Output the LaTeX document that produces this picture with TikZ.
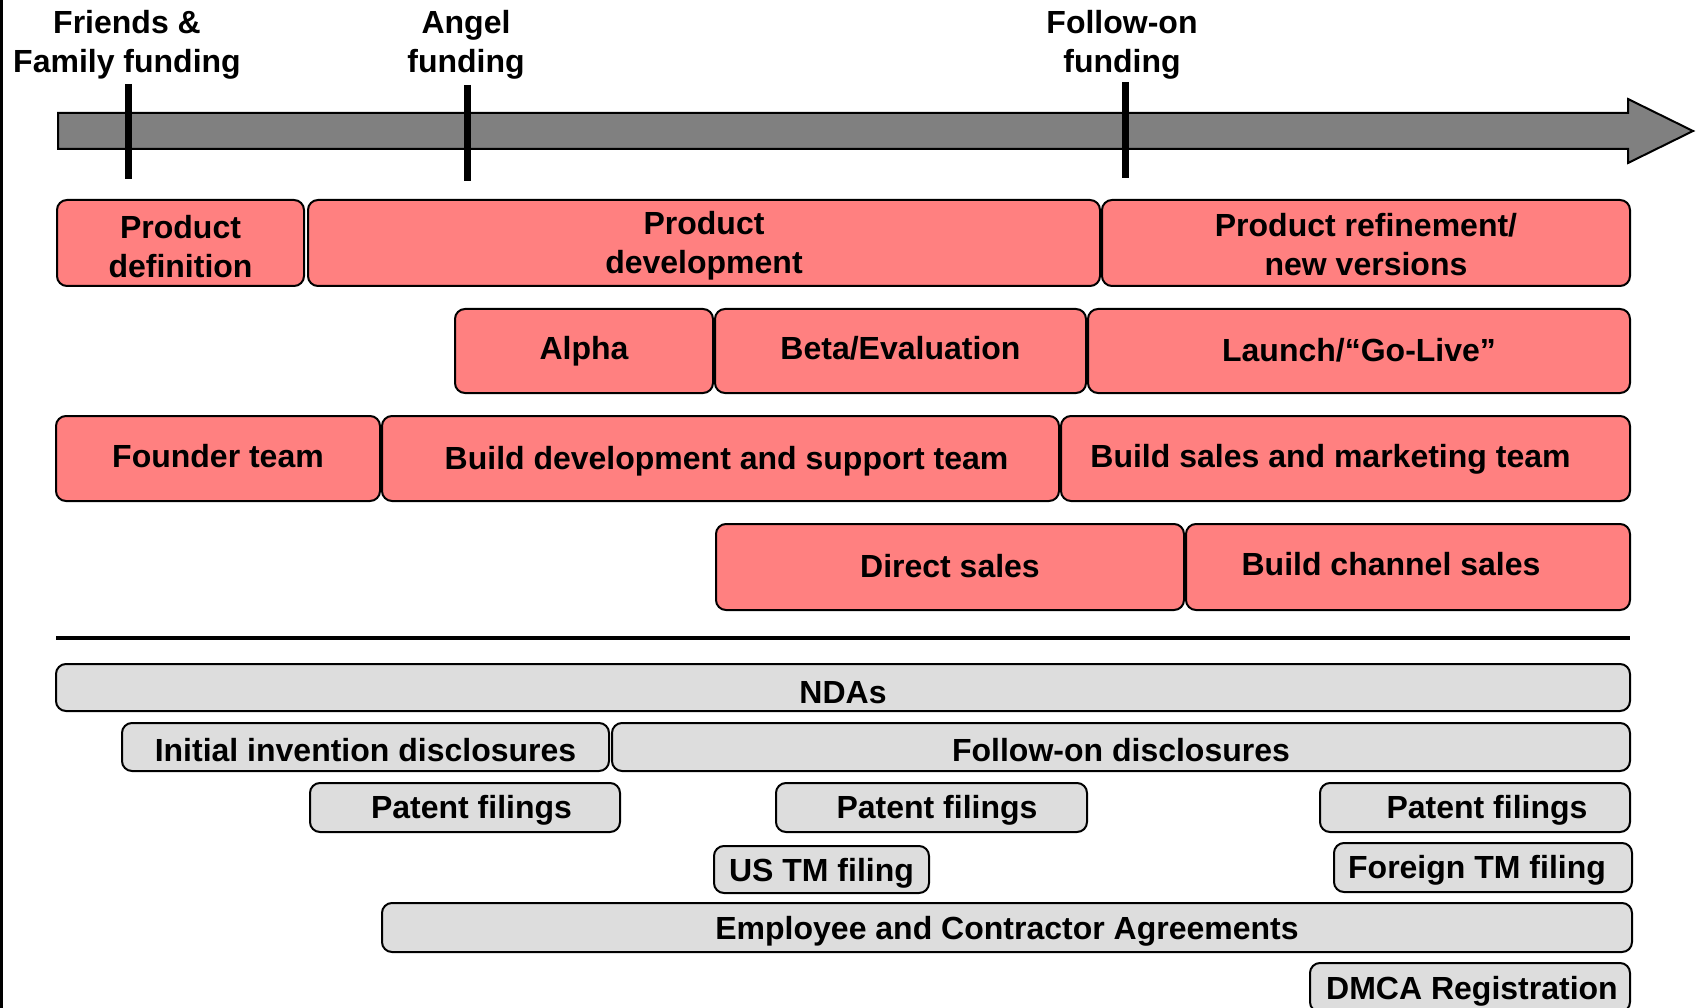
\documentclass[tikz,border=0pt]{standalone}
\usepackage{fontspec}
\setmainfont{Liberation Sans}
\definecolor{pinkfill}{HTML}{FF8080}
\definecolor{grayfill}{HTML}{DDDDDD}
\definecolor{arrowfill}{HTML}{808080}
\begin{document}
\begin{tikzpicture}[x=1pt,y=-1pt,
  txt/.style={font=\fontsize{32}{39}\selectfont\bfseries, align=center, inner sep=0pt},
  box/.style={txt, draw=black, line width=2pt, rounded corners=10pt, minimum height=#1},
  pbox/.style={box=86pt, fill=pinkfill},
  gbox/.style={box=48pt, fill=grayfill},
  oneline/.style={text height=#1, text depth=0pt},
  oneline/.default=22.9pt,
  tick/.style={line width=7pt, black},
  lbl/.style={txt, anchor=north}]
\useasboundingbox (0,0) rectangle (1698,1008);
\clip (0,0) rectangle (1698,1008);
% left edge line
\fill[black] (0,0) rectangle (3,1008);
% time arrow
\filldraw[fill=arrowfill, draw=black, line width=2pt, line join=miter]
  (58,113) -- (1628,113) -- (1628,99) -- (1693,131) -- (1628,163) -- (1628,149) -- (58,149) -- cycle;
% funding labels and ticks
\node[lbl] (ff) at (127,10.5) {Friends \&\\Family funding};
\node[lbl] (angel) at (466,10.5) {Angel\\funding};
\node[lbl] (follow) at (1122,10.5) {Follow-on\\funding};
\coordinate (t1a) at (128,84);  \coordinate (t1b) at (128,179);
\coordinate (t2a) at (467,85);  \coordinate (t2b) at (467,181);
\coordinate (t3a) at (1125,82); \coordinate (t3b) at (1125,178);
\draw[tick] (t1a) -- (t1b);
\draw[tick] (t2a) -- (t2b);
\draw[tick] (t3a) -- (t3b);
% row 1
\node[pbox, minimum width=247pt] (pd) at (180.5,243) {\rule{0pt}{29.5pt}Product\\definition};
\node[pbox, minimum width=792pt] (pdev) at (704,243) {\rule{0pt}{29.5pt}Product\\development};
\node[pbox, minimum width=528pt] (pref) at (1366,243) {\rule{0pt}{26pt}Product refinement/\\new versions};
% row 2
\node[pbox, oneline=17pt, minimum height=84pt, minimum width=258pt] (alpha) at (584,351) {Alpha};
\node[pbox, oneline=17pt, minimum height=84pt, minimum width=371pt] (beta) at (900.5,351) {Beta/Evaluation};
\node[pbox, oneline=20.9pt, minimum height=84pt, minimum width=542pt] (launch) at (1359,351) {Launch/“Go-Live”};
% row 3
\node[pbox, oneline=18.9pt, minimum height=85pt, minimum width=324pt] (founder) at (218,458.5) {Founder team};
\node[pbox, oneline, minimum height=85pt, minimum width=677pt] (devteam) at (720.5,458.5) {\hspace*{12pt}Build development and support team};
\node[pbox, oneline=18.9pt, minimum height=85pt, minimum width=569pt] (salesteam) at (1345.5,458.5) {Build sales and marketing team\hspace*{30pt}};
% row 4
\node[pbox, oneline=20.9pt, minimum width=468pt] (direct) at (950,567) {Direct sales};
\node[pbox, oneline=17pt, minimum width=444pt] (channel) at (1408,567) {Build channel sales\hspace*{34pt}};
% separator
\coordinate (sepL) at (56,638); \coordinate (sepR) at (1630,638);
\draw[line width=4pt] (sepL) -- (sepR);
% legal rows
\node[gbox, oneline=31pt, minimum height=47pt, minimum width=1574pt] (ndas) at (843,687.5) {NDAs};
\node[gbox, oneline=28.5pt, minimum width=487pt] (initial) at (365.5,747) {Initial invention disclosures};
\node[gbox, oneline=28.5pt, minimum width=1018pt] (followon) at (1121,747) {Follow-on disclosures};
\node[gbox, oneline, minimum height=49pt, minimum width=310pt] (pf1) at (465,807.5) {\hspace*{13pt}Patent filings};
\node[gbox, oneline, minimum height=49pt, minimum width=311pt] (pf2) at (931.5,807.5) {\hspace*{11pt}Patent filings};
\node[gbox, oneline, minimum height=49pt, minimum width=310pt] (pf3) at (1475,807.5) {\hspace*{24pt}Patent filings};
\node[gbox, oneline=24.5pt, minimum height=47pt, minimum width=215pt] (ustm) at (821.5,869.5) {US TM filing};
\node[gbox, oneline, minimum height=49pt, minimum width=298pt] (foreigntm) at (1483,867.5) {Foreign TM filing\hspace*{12pt}};
\node[gbox, oneline=24.5pt, minimum height=49pt, minimum width=1250pt] (employee) at (1007,927.5) {Employee and Contractor Agreements};
\node[gbox, oneline=24.5pt, minimum height=49pt, minimum width=320pt] (dmca) at (1470,987.5) {\hspace*{4pt}DMCA Registration};
\end{tikzpicture}
\end{document}
